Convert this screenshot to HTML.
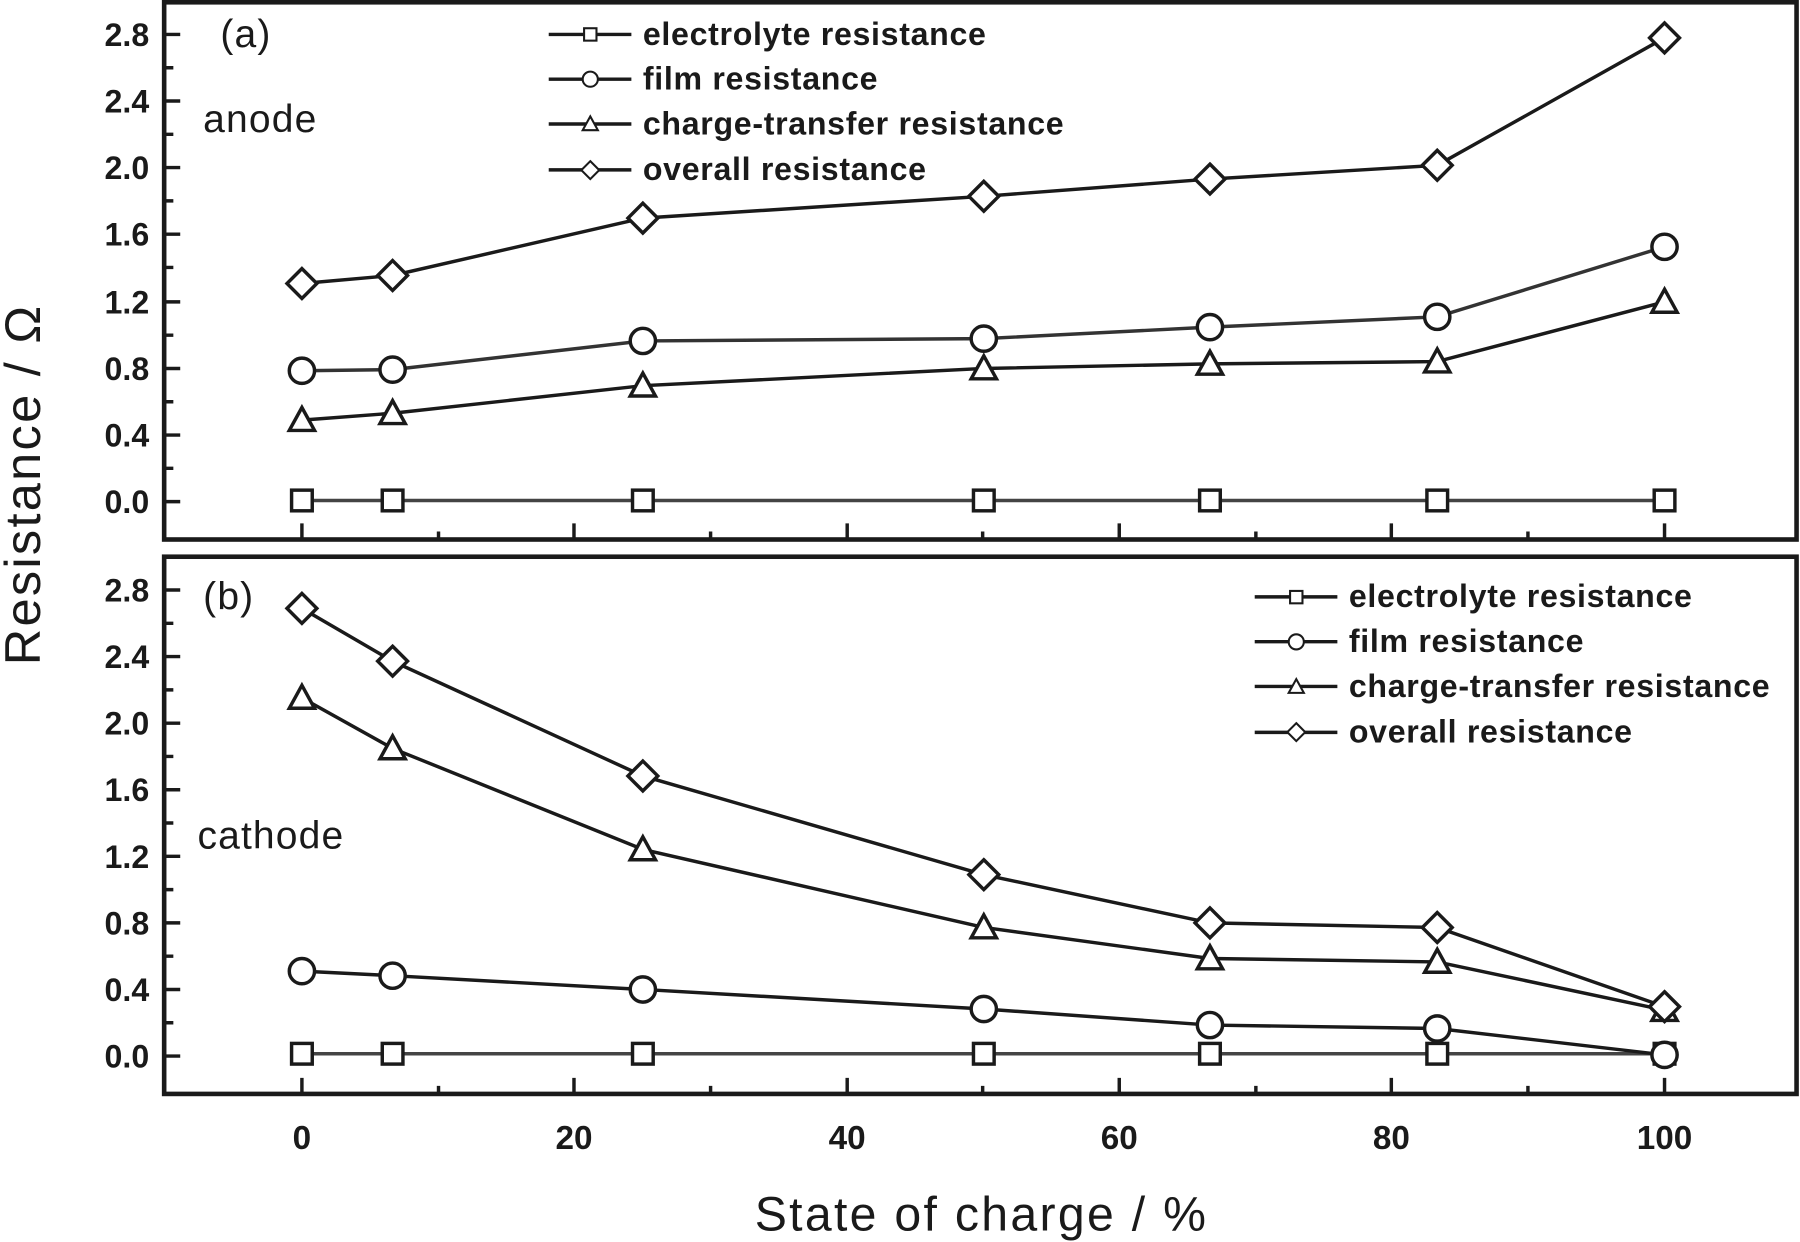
<!DOCTYPE html>
<html><head><meta charset="utf-8"><style>
html,body{margin:0;padding:0;background:#fff;}
svg{display:block;}
text{font-family:"Liberation Sans",Arial,sans-serif;fill:#1a1a1a;}
</style></head><body>
<svg width="1800" height="1242" viewBox="0 0 1568 1082" preserveAspectRatio="none" xmlns="http://www.w3.org/2000/svg">
<rect width="1568" height="1082" fill="#fff"/>
<g fill="none" stroke="#1a1a1a" stroke-width="4">
<rect x="143" y="2" width="1422" height="468"/>
<rect x="143" y="485" width="1422" height="468"/>
</g>
<g stroke="#1a1a1a" stroke-width="3">
<path d="M143 437h14M143 379h14M143 321h14M143 263h14M143 204h14M143 146h14M143 88h14M143 30h14
M143 408h8M143 350h8M143 292h8M143 233h8M143 175h8M143 117h8M143 59h8"/>
<path d="M143 920h14M143 862h14M143 804h14M143 746h14M143 688h14M143 630h14M143 572h14M143 514h14
M143 891h8M143 833h8M143 775h8M143 717h8M143 659h8M143 601h8M143 543h8"/>
<path d="M263 470v-14M500 470v-14M738 470v-14M975 470v-14M1212 470v-14M1450 470v-14
M382 470v-7M619 470v-7M856 470v-7M1094 470v-7M1331 470v-7"/>
<path d="M263 953v-14M500 953v-14M738 953v-14M975 953v-14M1212 953v-14M1450 953v-14
M382 953v-7M619 953v-7M856 953v-7M1094 953v-7M1331 953v-7"/>
</g>
<g font-size="28" font-weight="bold" text-anchor="end" fill="#222">
<text x="130" y="447">0.0</text><text x="130" y="389">0.4</text><text x="130" y="331">0.8</text><text x="130" y="273">1.2</text><text x="130" y="214">1.6</text><text x="130" y="156">2.0</text><text x="130" y="98">2.4</text><text x="130" y="40">2.8</text>
<text x="130" y="930">0.0</text><text x="130" y="872">0.4</text><text x="130" y="814">0.8</text><text x="130" y="756">1.2</text><text x="130" y="698">1.6</text><text x="130" y="640">2.0</text><text x="130" y="582">2.4</text><text x="130" y="524">2.8</text>
</g>
<g font-size="29" font-weight="bold" text-anchor="middle">
<text x="263" y="1001">0</text><text x="500" y="1001">20</text><text x="738" y="1001">40</text><text x="975" y="1001">60</text><text x="1212" y="1001">80</text><text x="1450" y="1001">100</text>
</g>
<text x="855" y="1072" font-size="42" letter-spacing="2" text-anchor="middle">State of charge /  %</text>
<text transform="translate(35,422) rotate(-90)" font-size="44" letter-spacing="2" text-anchor="middle">Resistance / Ω</text>
<g font-size="34" letter-spacing="1">
<text x="192" y="41">(a)</text><text x="177" y="115">anode</text>
<text x="177" y="531">(b)</text><text x="172" y="739">cathode</text>
</g>
<defs>
<rect id="sq" x="-9" y="-9" width="18" height="18" fill="#fff" stroke="#1a1a1a" stroke-width="3"/>
<circle id="ci" r="11" fill="#fff" stroke="#1a1a1a" stroke-width="3"/>
<path id="tr" d="M0 -11L11 9H-11Z" fill="#fff" stroke="#1a1a1a" stroke-width="3"/>
<path id="di" d="M0 -13L13 0L0 13L-13 0Z" fill="#fff" stroke="#1a1a1a" stroke-width="3"/>
</defs>
<g fill="none" stroke="#1a1a1a" stroke-width="3">
<polyline points="263,436 342,436 560,436 857,436 1054,436 1252,436 1450,436" stroke="#444"/>
<polyline points="263,323 342,322 560,297 857,295 1054,285 1252,276 1450,215" stroke="#333"/>
<polyline points="263,366 342,360 560,336 857,321 1054,317 1252,315 1450,263"/>
<polyline points="263,247 342,240 560,190 857,171 1054,156 1252,144 1450,33"/>
<polyline points="263,918 342,918 560,918 857,918 1054,918 1252,918 1450,918" stroke="#444"/>
<polyline points="263,846 342,850 560,862 857,879 1054,893 1252,896 1450,919"/>
<polyline points="263,608 342,652 560,740 857,808 1054,835 1252,838 1450,880"/>
<polyline points="263,530 342,576 560,676 857,762 1054,804 1252,808 1450,877"/>
</g>
<g>
<use href="#sq" x="263" y="436"/><use href="#sq" x="342" y="436"/><use href="#sq" x="560" y="436"/><use href="#sq" x="857" y="436"/><use href="#sq" x="1054" y="436"/><use href="#sq" x="1252" y="436"/><use href="#sq" x="1450" y="436"/>
<use href="#ci" x="263" y="323"/><use href="#ci" x="342" y="322"/><use href="#ci" x="560" y="297"/><use href="#ci" x="857" y="295"/><use href="#ci" x="1054" y="285"/><use href="#ci" x="1252" y="276"/><use href="#ci" x="1450" y="215"/>
<use href="#tr" x="263" y="366"/><use href="#tr" x="342" y="360"/><use href="#tr" x="560" y="336"/><use href="#tr" x="857" y="321"/><use href="#tr" x="1054" y="317"/><use href="#tr" x="1252" y="315"/><use href="#tr" x="1450" y="263"/>
<use href="#di" x="263" y="247"/><use href="#di" x="342" y="240"/><use href="#di" x="560" y="190"/><use href="#di" x="857" y="171"/><use href="#di" x="1054" y="156"/><use href="#di" x="1252" y="144"/><use href="#di" x="1450" y="33"/>
<use href="#sq" x="263" y="918"/><use href="#sq" x="342" y="918"/><use href="#sq" x="560" y="918"/><use href="#sq" x="857" y="918"/><use href="#sq" x="1054" y="918"/><use href="#sq" x="1252" y="918"/><use href="#sq" x="1450" y="918"/>
<use href="#ci" x="263" y="846"/><use href="#ci" x="342" y="850"/><use href="#ci" x="560" y="862"/><use href="#ci" x="857" y="879"/><use href="#ci" x="1054" y="893"/><use href="#ci" x="1252" y="896"/><use href="#ci" x="1450" y="919"/>
<use href="#tr" x="263" y="608"/><use href="#tr" x="342" y="652"/><use href="#tr" x="560" y="740"/><use href="#tr" x="857" y="808"/><use href="#tr" x="1054" y="835"/><use href="#tr" x="1252" y="838"/><use href="#tr" x="1450" y="880"/>
<use href="#di" x="263" y="530"/><use href="#di" x="342" y="576"/><use href="#di" x="560" y="676"/><use href="#di" x="857" y="762"/><use href="#di" x="1054" y="804"/><use href="#di" x="1252" y="808"/><use href="#di" x="1450" y="877"/>
</g>
<g stroke="#1a1a1a" stroke-width="3">
<path d="M478 30h72M478 69h72M478 108h72M478 148h72M1093 520h72M1093 559h72M1093 598h72M1093 638h72"/>
</g>
<g transform="scale(0.6)">
<use href="#sq" x="857" y="50"/><use href="#ci" x="857" y="115"/><use href="#tr" x="857" y="180"/><use href="#di" x="857" y="247"/>
<use href="#sq" x="1882" y="867"/><use href="#ci" x="1882" y="932"/><use href="#tr" x="1882" y="997"/><use href="#di" x="1882" y="1063"/>
</g>
<g font-size="28" font-weight="bold" letter-spacing="0.6" fill="#222">
<text x="560" y="39">electrolyte resistance</text>
<text x="560" y="78">film resistance</text>
<text x="560" y="117">charge-transfer resistance</text>
<text x="560" y="157">overall resistance</text>
<text x="1175" y="529">electrolyte resistance</text>
<text x="1175" y="568">film resistance</text>
<text x="1175" y="607">charge-transfer resistance</text>
<text x="1175" y="647">overall resistance</text>
</g>
</svg>
</body></html>
